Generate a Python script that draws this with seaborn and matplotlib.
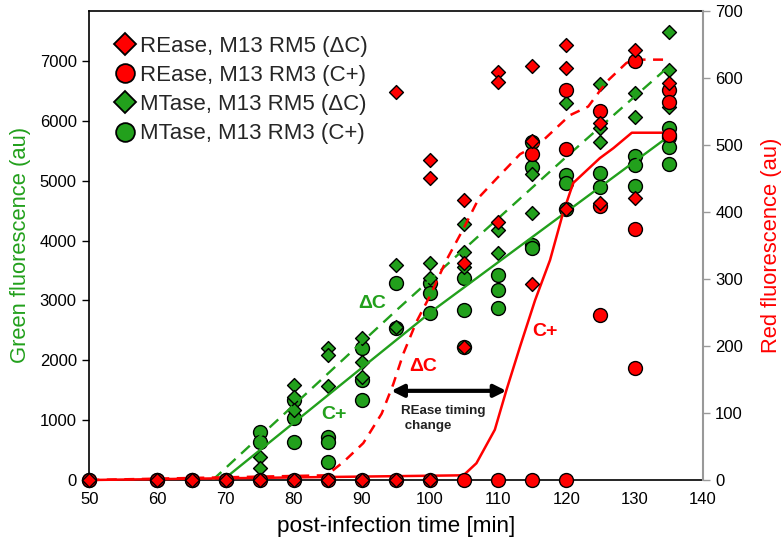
import numpy as np
import pandas as pd
import matplotlib
matplotlib.use("Agg")
import matplotlib.pyplot as plt
import seaborn as sns
from matplotlib.lines import Line2D

# ---------------- data ----------------
# Green fluorescence (au), MTase, M13 RM5 (ΔC) -> green diamonds
mt_dc_time = [50, 60, 65, 70, 75, 75, 80, 80, 80, 85, 85, 85, 90, 90, 90,
              95, 95, 100, 100, 105, 105, 105, 110, 110, 115, 115, 120,
              125, 125, 125, 130, 130, 135, 135, 135]
mt_dc_val = [0, 0, 0, 0, 389, 195, 1587, 1392, 1169, 2200, 2088, 1570,
             2367, 1966, 1726, 3592, 2561, 3620, 3370, 4277, 3814, 3564,
             4176, 3787, 5112, 4466, 6293, 6615, 5875, 5652, 6470, 6059,
             7479, 6849, 6236]

# Green fluorescence (au), MTase, M13 RM3 (C+) -> green circles
mt_cp_time = [50, 60, 65, 70, 75, 75, 80, 80, 80, 85, 85, 85, 90, 90, 90,
              95, 95, 100, 100, 100, 105, 105, 105, 110, 110, 110,
              115, 115, 115, 115, 120, 120, 120, 125, 125, 130, 130, 130,
              135, 135, 135, 135]
mt_cp_val = [0, 0, 0, 0, 807, 640, 1336, 1030, 640, 724, 640, 306,
             2200, 1671, 1336, 3286, 2534, 3286, 3119, 2785, 3370, 2840, 2227,
             3425, 3174, 2869, 5650, 5234, 3926, 3871, 5095, 4956, 4522,
             5124, 4900, 5415, 5262, 4911, 5875, 5735, 5570, 5279]

# Red fluorescence (au), REase, M13 RM5 (ΔC) -> red diamonds
re_dc_time = [50, 60, 65, 70, 75, 80, 85, 90, 95, 95, 100, 100, 100,
              105, 105, 105, 110, 110, 110, 115, 115, 115, 120, 120, 120,
              125, 125, 130, 130, 135]
re_dc_val = [0, 0, 0, 0, 0, 0, 0, 0, 578, 0, 477, 450, 0,
             418, 323, 199, 609, 594, 385, 618, 505, 293, 649, 615, 404,
             533, 413, 641, 420, 592]

# Red fluorescence (au), REase, M13 RM3 (C+) -> red circles
re_cp_time = [50, 60, 65, 70, 75, 80, 85, 90, 95, 100, 105, 110, 115, 115,
              120, 120, 120, 125, 125, 125, 130, 130, 130, 135, 135, 135]
re_cp_val = [0, 0, 0, 0, 0, 0, 0, 0, 0, 0, 0, 0, 0, 487,
             0, 581, 494, 551, 408, 246, 625, 375, 167, 582, 564, 515]

# trend curves
g_dash_time = [68.1, 95.3, 120, 135]
g_dash_val = [0, 2860, 5400, 6905]
g_solid_time = [69.6, 100.5, 135]
g_solid_val = [0, 2840, 5740]
r_dash_time = [50, 84.8, 87.3, 90.2, 92.9, 94.6, 96.1, 98.0, 100, 102.4,
               104.9, 107.3, 109.8, 113.2, 116.1, 120.5, 123.2, 125.9,
               128.8, 130, 135]
r_dash_val = [0, 7, 27, 55, 99, 143, 189, 236, 275, 328, 375, 423, 450,
              486, 502, 544, 557, 594, 622, 627, 627]
r_solid_time = [50, 104.9, 106.8, 109.5, 111.2, 113.2, 115.4, 117.6, 119.5,
                121.0, 123.0, 124.9, 126.9, 129.6, 135]
r_solid_val = [0, 7, 25, 75, 134, 199, 268, 328, 398, 443, 462, 480, 495,
               518, 518]

x_ticks = [50, 60, 70, 80, 90, 100, 110, 120, 130, 140]
g_ticks = [0, 1000, 2000, 3000, 4000, 5000, 6000, 7000]
r_ticks = [0, 100, 200, 300, 400, 500, 600, 700]

legend_labels = ["REase, M13 RM5 (\u0394C)", "REase, M13 RM3 (C+)",
                 "MTase, M13 RM5 (\u0394C)", "MTase, M13 RM3 (C+)"]

# ---------------- style ----------------
sns.set_style("white")
plt.rcParams['font.family'] = ['Liberation Sans', 'DejaVu Sans']

GREEN = "#22a01c"
RED = "#ff0000"

fig = plt.figure(figsize=(7.82, 5.54), dpi=100)
ax = fig.add_axes([89.3 / 782, 1 - 480 / 554, (702.7 - 89.3) / 782, (480 - 10.7) / 554])
ax2 = ax.twinx()

circ_s = 100
dia_s = 50

df_mt_cp = pd.DataFrame({"t": mt_cp_time, "v": mt_cp_val})
df_mt_dc = pd.DataFrame({"t": mt_dc_time, "v": mt_dc_val})
df_re_cp = pd.DataFrame({"t": re_cp_time, "v": re_cp_val})
df_re_dc = pd.DataFrame({"t": re_dc_time, "v": re_dc_val})

sns.scatterplot(data=df_mt_cp, x="t", y="v", ax=ax, marker="o", s=circ_s,
                color=GREEN, edgecolor="black", linewidth=1.0, clip_on=False, zorder=3)
sns.scatterplot(data=df_mt_dc, x="t", y="v", ax=ax, marker="D", s=dia_s,
                color=GREEN, edgecolor="black", linewidth=1.0, clip_on=False, zorder=3)
sns.lineplot(x=g_dash_time, y=g_dash_val, ax=ax, color=GREEN, lw=1.7,
             linestyle=(0, (5, 3.2)), zorder=4)
sns.lineplot(x=g_solid_time, y=g_solid_val, ax=ax, color=GREEN, lw=1.7, zorder=4)

sns.lineplot(x=r_dash_time, y=r_dash_val, ax=ax2, color=RED, lw=1.8,
             linestyle=(0, (4, 3)), zorder=2, clip_on=False)
sns.lineplot(x=r_solid_time, y=r_solid_val, ax=ax2, color=RED, lw=1.8, zorder=2,
             clip_on=False)
sns.scatterplot(data=df_re_cp, x="t", y="v", ax=ax2, marker="o", s=circ_s,
                color=RED, edgecolor="black", linewidth=1.0, clip_on=False, zorder=3)
sns.scatterplot(data=df_re_dc, x="t", y="v", ax=ax2, marker="D", s=dia_s,
                color=RED, edgecolor="black", linewidth=1.0, clip_on=False, zorder=3)

ax.set_xlim(50, 140)
ax.set_ylim(0, 7840)
ax2.set_ylim(0, 700)
ax.set_xticks(x_ticks)
ax.set_yticks(g_ticks)
ax2.set_yticks(r_ticks)
ax.set_xticklabels([str(v) for v in x_ticks])
ax.set_yticklabels([str(v) for v in g_ticks])
ax2.set_yticklabels([str(v) for v in r_ticks])

ax.tick_params(axis="both", direction="out", length=5, width=1, colors="black",
               labelsize=12, pad=4)
ax2.tick_params(axis="y", direction="out", length=5, width=1, color="#999999",
                labelcolor="black", labelsize=12, pad=4)

for sp in ["left", "bottom", "top"]:
    ax.spines[sp].set_color("black")
    ax.spines[sp].set_linewidth(1.2)
ax.spines["right"].set_visible(False)
for sp in ["left", "bottom", "top"]:
    ax2.spines[sp].set_visible(False)
ax2.spines["right"].set_color("#999999")
ax2.spines["right"].set_linewidth(1.5)

ax.set_xlabel("post-infection time [min]", fontsize=16.2, color="black", labelpad=6)
ax.set_ylabel("Green fluorescence (au)", fontsize=15.8, color=GREEN, labelpad=6)
ax2.set_ylabel("Red fluorescence (au)", fontsize=15.8, color=RED, labelpad=13)

# annotations
ax.text(91.5, 2950, "\u0394C", color=GREEN, fontsize=14, fontweight="bold",
        ha="center", va="center")
ax.text(85.9, 1100, "C+", color=GREEN, fontsize=14, fontweight="bold",
        ha="center", va="center")
ax2.text(99.0, 170, "\u0394C", color=RED, fontsize=14, fontweight="bold",
         ha="center", va="center")
ax2.text(116.9, 221, "C+", color=RED, fontsize=14, fontweight="bold",
         ha="center", va="center")
ax2.annotate("", xy=(94.3, 133), xytext=(111.2, 133),
             arrowprops=dict(arrowstyle="<|-|>", color="black", lw=3,
                             mutation_scale=18, shrinkA=0, shrinkB=0))
ax2.text(95.8, 112, "REase timing\n change", color="#222222", fontsize=9.6,
         fontweight="bold", ha="left", va="top", linespacing=1.3)

# legend
handles = [
    Line2D([], [], marker="D", ls="none", markersize=11, markerfacecolor=RED, markeredgecolor="black", markeredgewidth=1.3),
    Line2D([], [], marker="o", ls="none", markersize=13.5, markerfacecolor=RED, markeredgecolor="black", markeredgewidth=1.3),
    Line2D([], [], marker="D", ls="none", markersize=11, markerfacecolor=GREEN, markeredgecolor="black", markeredgewidth=1.3),
    Line2D([], [], marker="o", ls="none", markersize=13.5, markerfacecolor=GREEN, markeredgecolor="black", markeredgewidth=1.3),
]
leg = ax2.legend(handles, legend_labels, loc="upper left", bbox_to_anchor=(0.018, 0.98),
                 frameon=False, fontsize=16, handlelength=0.8, handletextpad=0.3,
                 labelspacing=0.37, borderaxespad=0.3)

fig.savefig("out.png", dpi=100)
